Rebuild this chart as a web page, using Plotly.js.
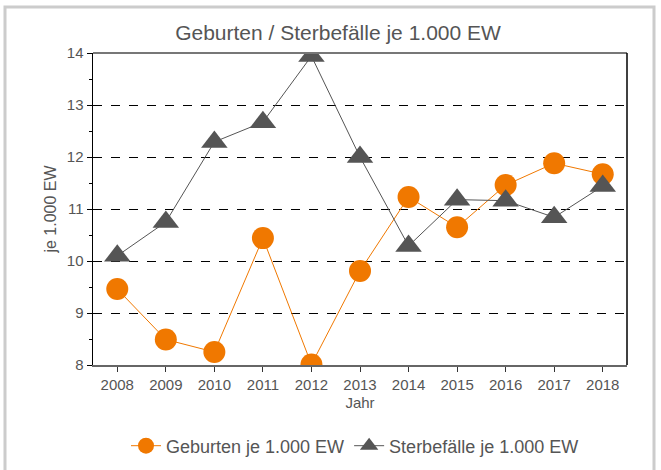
<!DOCTYPE html>
<html>
<head>
<meta charset="utf-8">
<script src="https://cdn.plot.ly/plotly-3.0.1.min.js"></script>
<style>
html,body{margin:0;padding:0;background:#fff;}
#chart{width:661px;height:470px;}
</style>
</head>
<body>
<div id="chart"></div>
<script>
const years = ["2008","2009","2010","2011","2012","2013","2014","2015","2016","2017","2018"];
const geburten = [9.46, 8.49, 8.25, 10.44, 8.01, 9.81, 11.23, 10.65, 11.46, 11.88, 11.67];
const sterbefaelle = [10.1, 10.75, 12.29, 12.67, 13.94, 12.0, 10.29, 11.18, 11.16, 10.84, 11.44];
const yTicks = [8, 9, 10, 11, 12, 13, 14];

const orange = "#F07800";
const grey = "#555555";
const fontFam = "Liberation Sans, Arial, sans-serif";

const traces = [
  {
    x: years, y: geburten, name: "Geburten je 1.000 EW",
    type: "scatter", mode: "lines+markers",
    line: {color: orange, width: 1},
    marker: {symbol: "circle", size: 22, color: orange, line: {width: 0}}
  },
  {
    x: years, y: sterbefaelle, name: "Sterbefälle je 1.000 EW",
    type: "scatter", mode: "lines+markers",
    line: {color: grey, width: 1},
    marker: {symbol: "triangle-up", size: 23, color: grey, line: {width: 0}}
  }
];

const layout = {
  width: 661, height: 470,
  margin: {l: 93, r: 34, t: 53, b: 105, autoexpand: false},
  paper_bgcolor: "#ffffff", plot_bgcolor: "#ffffff",
  font: {family: fontFam, color: "#555555", size: 15},
  title: {text: "Geburten / Sterbefälle je 1.000 EW", font: {size: 21, color: "#555555"},
          x: 338/661, xanchor: "center", xref: "container", y: 1 - 33/470, yref: "container", yanchor: "middle"},
  xaxis: {
    type: "category", range: [-0.5, 10.5],
    showgrid: false, zeroline: false,
    showline: true, linecolor: "#666666", linewidth: 1.5, mirror: false,
    ticks: "outside", ticklen: 5, tickcolor: "#333333", tickwidth: 1,
    tickfont: {size: 15, color: "#555555"},
    title: {text: "Jahr", font: {size: 15, color: "#555555"}, standoff: 6}
  },
  xaxis2: {
    overlaying: "x", anchor: "y", side: "bottom", range: [-0.5, 10.5],
    tickvals: years.map((_, i) => i), showticklabels: false,
    showgrid: false, zeroline: false, showline: false,
    ticks: "inside", ticklen: 5, tickcolor: "#333333", tickwidth: 1
  },
  yaxis: {
    range: [8, 14], tickvals: yTicks, ticktext: yTicks.map(String),
    showgrid: true, gridcolor: "#000000", griddash: "dash", gridwidth: 1,
    zeroline: false,
    showline: true, linecolor: "#000000", linewidth: 1.5, mirror: false,
    ticks: "outside", ticklen: 5, tickcolor: "#000000", tickwidth: 1,
    minor: {dtick: 0.5, tick0: 8, ticks: "outside", ticklen: 3, tickcolor: "#000000", showgrid: false},
    tickfont: {size: 15, color: "#555555"},
    title: {text: "je 1.000 EW", font: {size: 16, color: "#555555"}, standoff: 6}
  },
  yaxis2: {
    overlaying: "y", anchor: "x", side: "left", range: [8, 14],
    tickvals: yTicks, showticklabels: false,
    showgrid: false, zeroline: false, showline: false,
    ticks: "inside", ticklen: 8, tickcolor: "#000000", tickwidth: 1,
    minor: {dtick: 0.5, tick0: 8, ticks: "inside", ticklen: 4, tickcolor: "#000000", showgrid: false}
  },
  showlegend: true,
  legend: {orientation: "h", x: 0.5 - 5/534, xanchor: "center", xref: "paper",
           y: 1 - 446/470, yref: "container", yanchor: "middle",
           font: {size: 18, color: "#555555"}, itemwidth: 30, traceorder: "normal"},
  shapes: [
    {type: "line", xref: "paper", yref: "paper", x0: 0, x1: 1, y0: 1, y1: 1, line: {color: "#777777", width: 2}},
    {type: "line", xref: "paper", yref: "paper", x0: 1, x1: 1, y0: 0, y1: 1, line: {color: "#000000", width: 1.5}},
    {type: "rect", xref: "paper", yref: "paper",
     x0: (5-93)/534, x1: (654-93)/534, y0: (365-472)/312, y1: (365-7)/312,
     line: {color: "#cccccc", width: 3}, fillcolor: "rgba(0,0,0,0)", layer: "below"}
  ]
};

Plotly.newPlot("chart", traces, layout, {displayModeBar: false, staticPlot: true});
</script>
</body>
</html>
